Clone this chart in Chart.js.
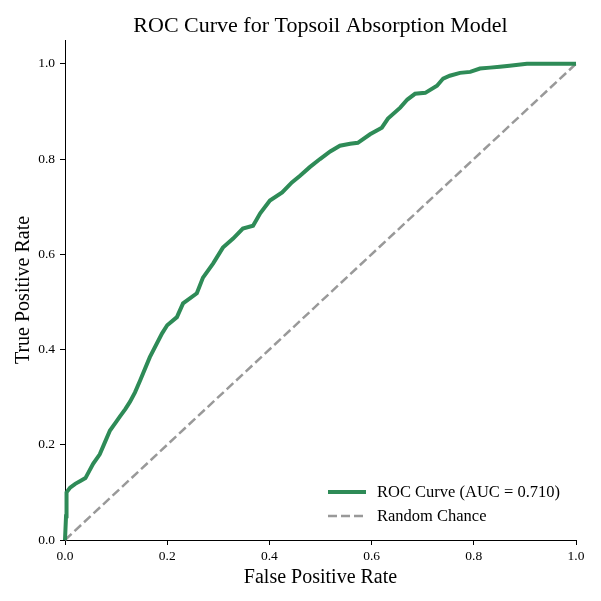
<!DOCTYPE html>
<html>
<head>
<meta charset="utf-8">
<script src="https://cdn.jsdelivr.net/npm/chart.js@4.4.0/dist/chart.umd.min.js"></script>
<style>
  body { margin: 0; background: #fff; }
  #wrap { width: 601px; height: 601px; }
</style>
</head>
<body>
<div id="wrap"><canvas id="rocChart" width="601" height="601"></canvas></div>
<script>
// ROC curve points
const fpr = [0, 0.002, 0.003, 0.01, 0.02, 0.03, 0.04, 0.055, 0.068, 0.078, 0.088, 0.098, 0.108, 0.118, 0.127, 0.137,
  0.147, 0.166, 0.19, 0.2, 0.219, 0.231, 0.258, 0.27, 0.29, 0.309, 0.329, 0.348, 0.368, 0.382, 0.401, 0.425,
  0.444, 0.46, 0.479, 0.499, 0.519, 0.538, 0.558, 0.573, 0.597, 0.62, 0.632, 0.656, 0.67, 0.685, 0.705,
  0.728, 0.74, 0.753, 0.773, 0.793, 0.812, 0.832, 0.851, 0.87, 0.904, 0.93, 1.0];
const tpr = [0, 0.05, 0.1, 0.11, 0.118, 0.124, 0.13, 0.16, 0.18, 0.205, 0.23, 0.245, 0.26, 0.275, 0.29, 0.31,
  0.335, 0.384, 0.434, 0.451, 0.468, 0.497, 0.518, 0.551, 0.581, 0.614, 0.633, 0.654, 0.66, 0.686, 0.713, 0.73,
  0.751, 0.765, 0.783, 0.8, 0.816, 0.828, 0.832, 0.834, 0.852, 0.866, 0.885, 0.908, 0.925, 0.937, 0.939,
  0.954, 0.969, 0.975, 0.981, 0.983, 0.99, 0.992, 0.994, 0.996, 1.0, 1.0, 1.0];
const chanceX = [0, 1];
const chanceY = [0, 1];
const xTicks = [0, 0.2, 0.4, 0.6, 0.8, 1.0];
const yTicks = [0, 0.2, 0.4, 0.6, 0.8, 1.0];
const aucLabel = 'ROC Curve (AUC = 0.710)';
const chanceLabel = 'Random Chance';

const serif = 'Liberation Serif';
const rocColor = '#2e8b57';
const chanceColor = '#999999';

// legend drawn inside the plot, lower right
const insideLegend = {
    id: 'insideLegend',
    afterDatasetsDraw(chart) {
        const ctx = chart.ctx;
        const area = chart.chartArea;
        const x0 = area.right - 248;
        const y1 = area.bottom - 48;
        const y2 = area.bottom - 24;
        ctx.save();
        ctx.lineCap = 'butt';
        ctx.strokeStyle = rocColor;
        ctx.lineWidth = 4;
        ctx.beginPath();
        ctx.moveTo(x0, y1);
        ctx.lineTo(x0 + 38, y1);
        ctx.stroke();
        ctx.strokeStyle = chanceColor;
        ctx.lineWidth = 2.5;
        ctx.setLineDash([9, 4]);
        ctx.beginPath();
        ctx.moveTo(x0, y2);
        ctx.lineTo(x0 + 38, y2);
        ctx.stroke();
        ctx.setLineDash([]);
        ctx.fillStyle = '#000';
        ctx.font = '16.5px "' + serif + '"';
        ctx.textBaseline = 'middle';
        ctx.fillText(aucLabel, x0 + 49, y1 + 1);
        ctx.fillText(chanceLabel, x0 + 49, y2 + 1);
        ctx.restore();
    }
};

const tickFilter = (ticks) => function (scale) {
    scale.ticks = ticks.map(v => ({ value: v }));
};

new Chart(document.getElementById('rocChart'), {
    type: 'line',
    data: {
        datasets: [{
            label: aucLabel,
            data: fpr.map((v, i) => ({ x: v, y: tpr[i] })),
            borderColor: rocColor,
            borderWidth: 4,
            pointRadius: 0,
            tension: 0,
            fill: false
        }, {
            label: chanceLabel,
            data: chanceX.map((v, i) => ({ x: v, y: chanceY[i] })),
            borderColor: chanceColor,
            borderWidth: 2.5,
            borderDash: [9, 4],
            pointRadius: 0,
            fill: false
        }]
    },
    options: {
        responsive: false,
        animation: false,
        devicePixelRatio: 1,
        clip: false,
        layout: { padding: { left: 0, right: 25, top: 0, bottom: 0 } },
        plugins: {
            legend: { display: false },
            tooltip: { enabled: false },
            title: {
                display: true,
                fullSize: false,
                text: 'ROC Curve for Topsoil Absorption Model',
                color: '#000',
                font: { family: serif, size: 22, weight: 'normal' },
                padding: { top: 13, bottom: 0.6 }
            }
        },
        scales: {
            x: {
                type: 'linear',
                min: 0,
                max: 1,
                afterBuildTicks: tickFilter(xTicks),
                afterFit(scale) { scale.height = 61; },
                grid: { drawOnChartArea: false, drawTicks: true, tickLength: 5, tickColor: '#000' },
                border: { display: true, color: '#000', width: 1 },
                ticks: {
                    color: '#000',
                    padding: 3,
                    maxRotation: 0,
                    font: { family: serif, size: 13.5 },
                    callback: v => v.toFixed(1)
                },
                title: {
                    display: true,
                    text: 'False Positive Rate',
                    color: '#000',
                    font: { family: serif, size: 20 },
                    padding: { top: 4, bottom: 11 }
                }
            },
            y: {
                type: 'linear',
                min: 0,
                max: 1.05,
                afterBuildTicks: tickFilter(yTicks),
                afterFit(scale) { scale.width = 65; },
                grid: { drawOnChartArea: false, drawTicks: true, tickLength: 5, tickColor: '#000' },
                border: { display: true, color: '#000', width: 1 },
                ticks: {
                    color: '#000',
                    padding: 5,
                    font: { family: serif, size: 13.5 },
                    callback: v => v.toFixed(1)
                },
                title: {
                    display: true,
                    text: 'True Positive Rate',
                    color: '#000',
                    font: { family: serif, size: 20 },
                    padding: { top: 12, bottom: 4 }
                }
            }
        }
    },
    plugins: [insideLegend]
});
</script>
</body>
</html>
